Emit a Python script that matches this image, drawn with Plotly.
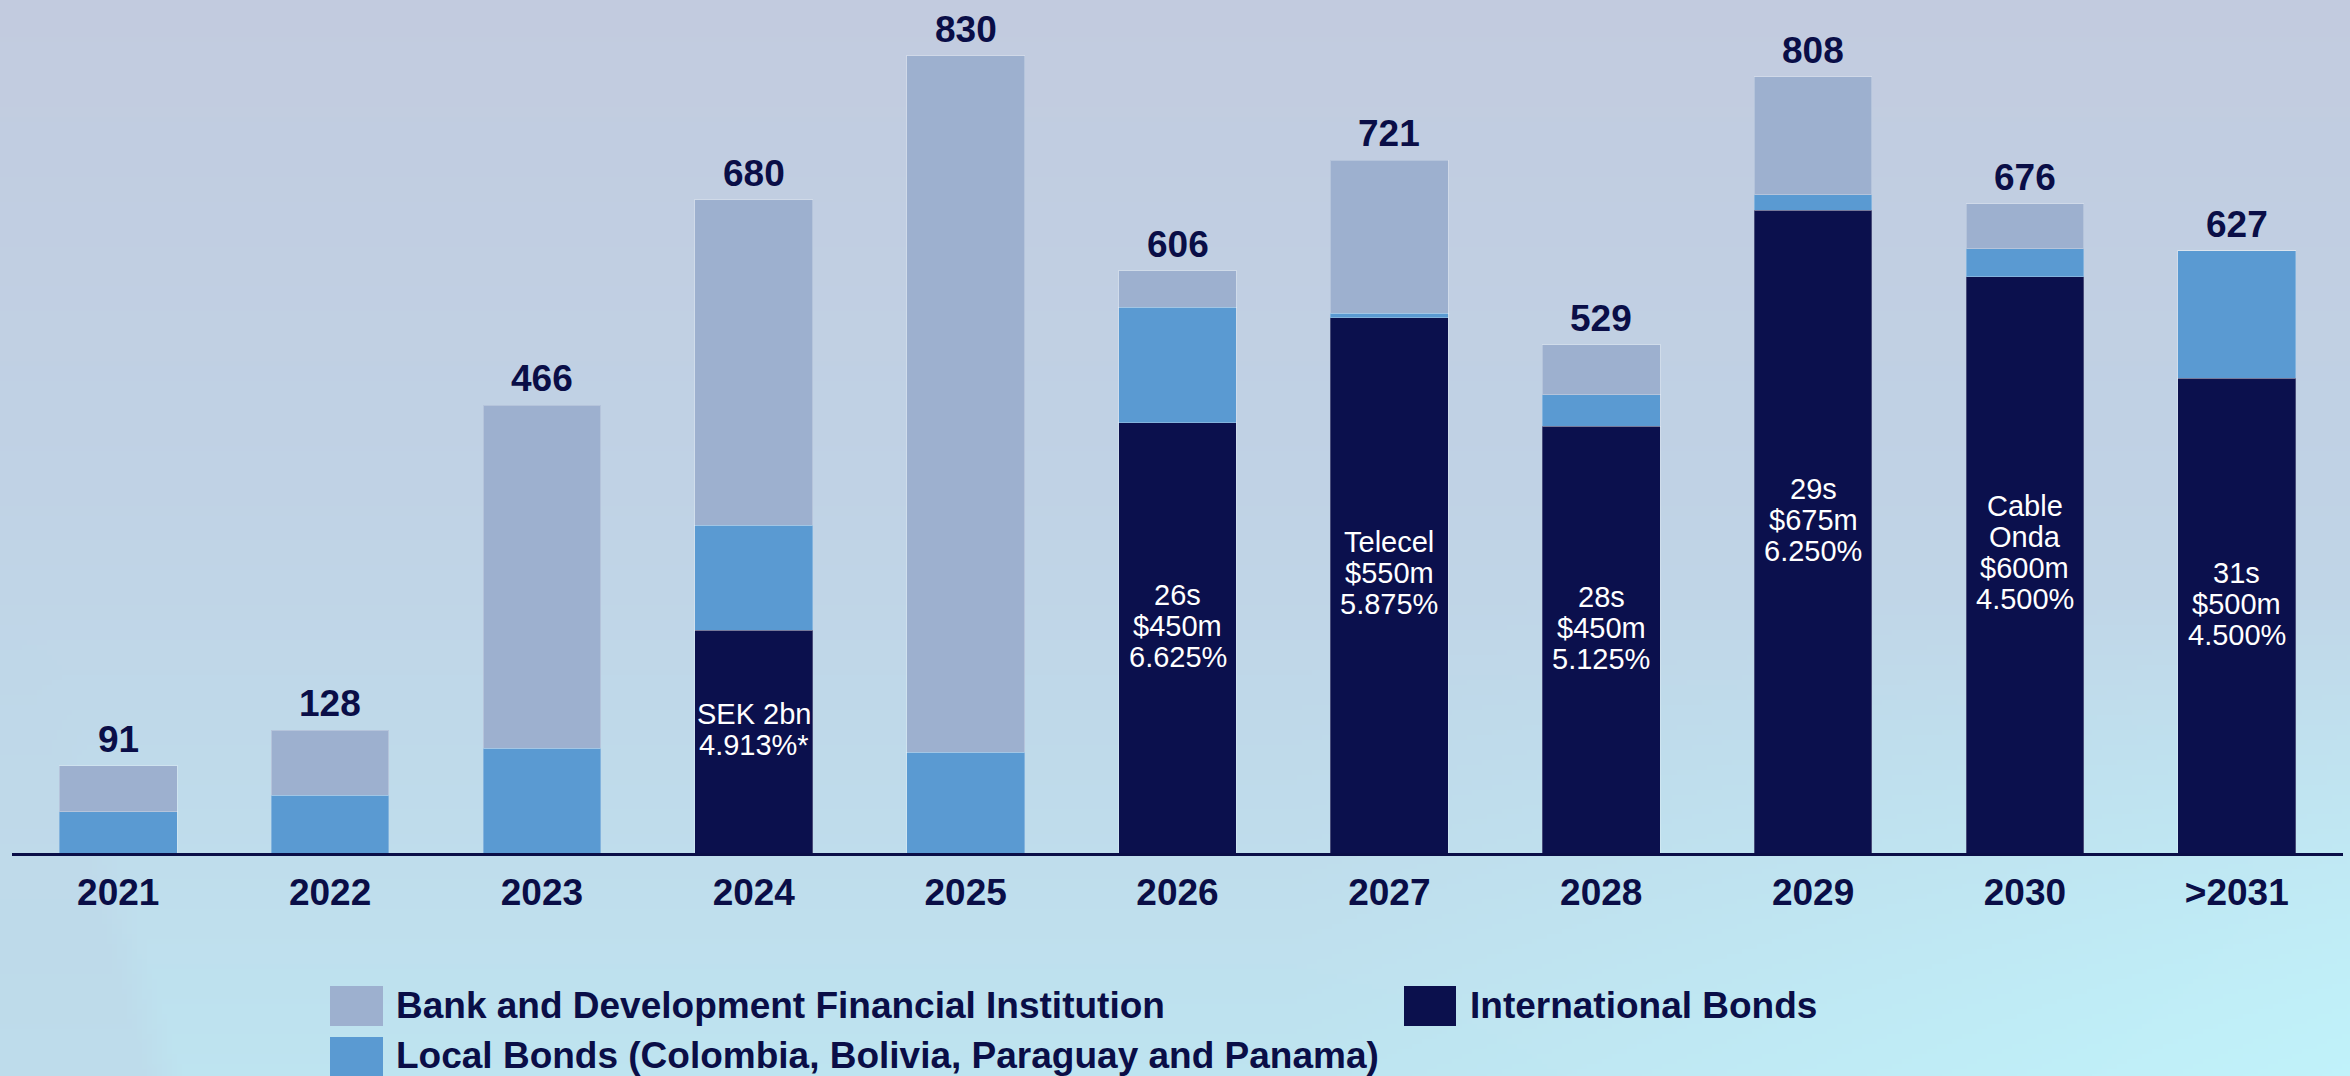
import base64
import struct
import zlib

import plotly.graph_objects as go

# ---------------- data ----------------
categories = ["2021", "2022", "2023", "2024", "2025", "2026", "2027", "2028", "2029", "2030", ">2031"]
intl_bonds = [0, 0, 0, 232, 0, 448, 557, 444, 669, 600, 494]
local_bonds = [43, 60, 109, 109, 105, 120, 5, 33, 16, 29, 133]
bank_dfi = [48, 68, 357, 339, 725, 38, 159, 52, 123, 47, 0]
totals = [91, 128, 466, 680, 830, 606, 721, 529, 808, 676, 627]
intl_labels = ["", "", "", "SEK 2bn<br>4.913%*", "", "26s<br>$450m<br>6.625%",
               "Telecel<br>$550m<br>5.875%", "28s<br>$450m<br>5.125%",
               "29s<br>$675m<br>6.250%", "Cable<br>Onda<br>$600m<br>4.500%",
               "31s<br>$500m<br>4.500%"]
series_names = ["Bank and Development Financial Institution",
                "Local Bonds (Colombia, Bolivia, Paraguay and Panama)",
                "International Bonds"]

# ---------------- style ----------------
W, H = 2350, 1076
NAVY_TXT = "#0A0E47"
C_BANK = "#9DB0CF"
C_LOCAL = "#5A9AD2"
C_INTL = "#0B104D"
FONT = "Liberation Sans"
BIG = 37
INNER = 29
INNER_LINE = 31


# ---------------- background image (gradient) ----------------
def make_bg_png(w, h):
    stops = [(0.0, (194, 203, 223)), (0.45, (192, 210, 229)),
             (0.8, (191, 221, 236)), (1.0, (190, 228, 240))]

    def vert(t):
        for i in range(len(stops) - 1):
            t0, c0 = stops[i]
            t1, c1 = stops[i + 1]
            if t <= t1:
                f = (t - t0) / (t1 - t0)
                return [c0[k] + (c1[k] - c0[k]) * f for k in range(3)]
        return list(stops[-1][1])

    rows = []
    for j in range(h):
        py = (j + 0.5) / h * H
        t = py / H
        row = bytearray([0])
        for i in range(w):
            px = (i + 0.5) / w * W
            c = vert(t)
            k = max(0.0, (px / W - 0.55) / 0.45) * max(0.0, (t - 0.55) / 0.45)
            cyan = (192, 242, 250)
            c = [c[m] + (cyan[m] - c[m]) * k for m in range(3)]
            if py > 600:
                xline = 53 + (py - 700) * 0.2926
                d = xline - px
                if d > -20:
                    edge = min(1.0, (d + 20) / 40)
                    f = 0.45 * edge * min(1.0, (py - 600) / 350)
                    grey = (190, 211, 229)
                    c = [c[m] + (grey[m] - c[m]) * f for m in range(3)]
            row.extend(int(round(v)) for v in c)
        rows.append(bytes(row))
    raw = b"".join(rows)

    def chunk(tag, data):
        return (struct.pack(">I", len(data)) + tag + data +
                struct.pack(">I", zlib.crc32(tag + data) & 0xFFFFFFFF))

    png = b"\x89PNG\r\n\x1a\n"
    png += chunk(b"IHDR", struct.pack(">IIBBBBB", w, h, 8, 2, 0, 0, 0))
    png += chunk(b"IDAT", zlib.compress(raw, 9))
    png += chunk(b"IEND", b"")
    return "data:image/png;base64," + base64.b64encode(png).decode()


bg_uri = make_bg_png(470, 216)

# ---------------- figure ----------------
fig = go.Figure()

bar_line = dict(width=1, color="rgba(255,255,255,0.25)")
fig.add_trace(go.Bar(x=categories, y=intl_bonds, name=series_names[2],
                     marker=dict(color=C_INTL, line=bar_line), hoverinfo="skip"))
fig.add_trace(go.Bar(x=categories, y=local_bonds, name=series_names[1],
                     marker=dict(color=C_LOCAL, line=bar_line), hoverinfo="skip"))
fig.add_trace(go.Bar(x=categories, y=bank_dfi, name=series_names[0],
                     marker=dict(color=C_BANK, line=bar_line), hoverinfo="skip"))

# total labels above each stack (x given as category index)
for idx, tot in enumerate(totals):
    fig.add_annotation(x=idx, y=tot, xref="x", yref="y", text=str(tot),
                       showarrow=False, yanchor="bottom", yshift=4,
                       font=dict(family=FONT, size=BIG, color=NAVY_TXT, weight="bold"))

# labels inside the international-bond segments (one annotation per line)
for idx, (val, lab) in enumerate(zip(intl_bonds, intl_labels)):
    if not lab:
        continue
    lines = lab.split("<br>")
    n = len(lines)
    for k, line in enumerate(lines):
        fig.add_annotation(x=idx, y=val / 2, xref="x", yref="y", text=line,
                           showarrow=False, yanchor="middle",
                           yshift=12 + ((n - 1) / 2 - k) * INNER_LINE,
                           font=dict(family=FONT, size=INNER, color="white"))

plot_bottom_px = 853
px_per_unit = 0.9608
y_top = plot_bottom_px / px_per_unit

fig.update_layout(
    width=W, height=H,
    margin=dict(l=0, r=0, t=0, b=0, pad=0),
    paper_bgcolor="rgba(0,0,0,0)", plot_bgcolor="rgba(0,0,0,0)",
    barmode="stack", bargap=0.444,
    showlegend=False,
    font=dict(family=FONT, color=NAVY_TXT),
    xaxis=dict(type="category", categoryorder="array", categoryarray=categories,
               range=[-0.5, len(categories) - 0.5],
               domain=[12.3 / W, 2342.7 / W], showline=True, linecolor=NAVY_TXT,
               linewidth=3, ticks="", showgrid=False, zeroline=False,
               ticklabelstandoff=5,
               tickfont=dict(family=FONT, size=BIG, color=NAVY_TXT, weight="bold"),
               automargin=False, fixedrange=True),
    yaxis=dict(domain=[1 - plot_bottom_px / H, 1], range=[0, y_top], visible=False,
               showgrid=False, zeroline=False, automargin=False, fixedrange=True),
    images=[dict(source=bg_uri, xref="paper", yref="paper", x=0, y=1,
                 sizex=1, sizey=1, sizing="stretch", xanchor="left",
                 yanchor="top", layer="below")],
)

# ---------------- custom legend ----------------
legend_items = [
    (series_names[0], C_BANK, 330, 986, 383, 1026, 394, 1005),
    (series_names[1], C_LOCAL, 330, 1037, 383, 1076, 394, 1055),
    (series_names[2], C_INTL, 1404, 986, 1456, 1026, 1468, 1005),
]
for name, col, x0, y0, x1, y1, tx, ty in legend_items:
    fig.add_shape(type="rect", xref="paper", yref="paper",
                  x0=x0 / W, x1=x1 / W, y0=1 - y1 / H, y1=1 - y0 / H,
                  fillcolor=col, line_width=0, layer="above")
    fig.add_annotation(xref="paper", yref="paper", x=tx / W, y=1 - ty / H,
                       xanchor="left", yanchor="middle", text=name, showarrow=False,
                       font=dict(family=FONT, size=BIG, color=NAVY_TXT, weight="bold"))

fig.write_html(
    "out.html",
    config={"displayModeBar": False},
    post_script="document.body.style.margin='0';"
                "document.documentElement.style.overflow='hidden';"
                "document.body.style.overflow='hidden';",
)
